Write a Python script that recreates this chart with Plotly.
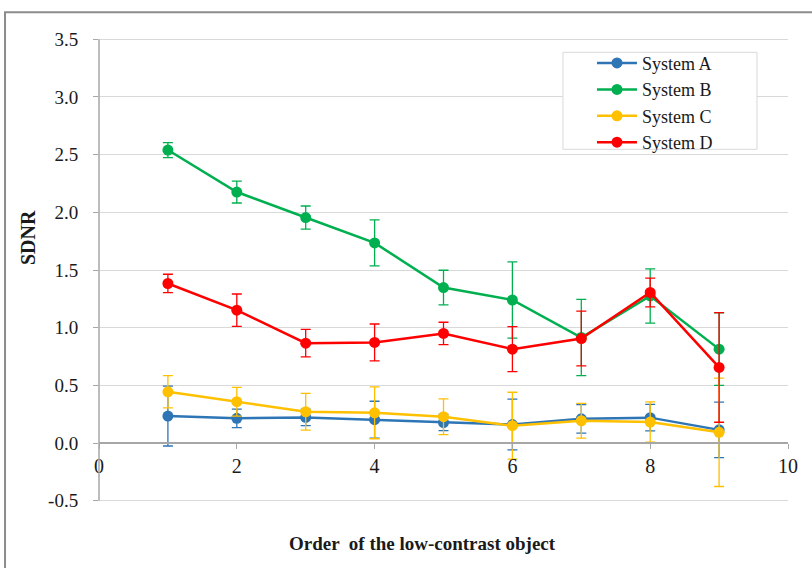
import plotly.graph_objects as go

x_order = [1, 2, 3, 4, 5, 6, 7, 8, 9]

sys_a = [0.234, 0.214, 0.222, 0.202, 0.178, 0.160, 0.210, 0.220, 0.114]
sys_a_err = [0.26, 0.08, 0.072, 0.16, 0.07, 0.22, 0.124, 0.115, 0.24]

sys_b = [2.54, 2.176, 1.955, 1.735, 1.348, 1.24, 0.915, 1.275, 0.814]
sys_b_err = [0.065, 0.095, 0.10, 0.20, 0.15, 0.33, 0.33, 0.235, 0.315]

sys_c = [0.444, 0.358, 0.271, 0.262, 0.228, 0.150, 0.193, 0.182, 0.093]
sys_c_err = [0.14, 0.125, 0.16, 0.225, 0.155, 0.29, 0.15, 0.175, 0.47]

sys_d = [1.383, 1.152, 0.866, 0.872, 0.950, 0.814, 0.906, 1.305, 0.655]
sys_d_err = [0.08, 0.14, 0.12, 0.16, 0.097, 0.195, 0.237, 0.125, 0.475]

names = ["System A", "System B", "System C", "System D"]
colors = ["#2E75B6", "#00B050", "#FFC000", "#FF0000"]
series = [sys_a, sys_b, sys_c, sys_d]
errors = [sys_a_err, sys_b_err, sys_c_err, sys_d_err]

y_tickvals = [-0.5, 0.0, 0.5, 1.0, 1.5, 2.0, 2.5, 3.0, 3.5]
y_ticktext = ["-0.5", "0.0", "0.5", "1.0", "1.5", "2.0", "2.5", "3.0", "3.5"]
x_tickvals = [0, 2, 4, 6, 8, 10]
x_ticktext = ["0", "2", "4", "6", "8", "10"]

SERIF = "Liberation Serif"
TXT = "#1a1a1a"

fig = go.Figure()
for n, c, s, e in zip(names, colors, series, errors):
    fig.add_trace(go.Scatter(
        x=x_order, y=s, name=n, mode="lines+markers",
        line=dict(color=c, width=2.5),
        marker=dict(color=c, size=11),
        error_y=dict(type="data", array=e, visible=True, color=c,
                     thickness=1.3, width=5),
    ))

y_lo, y_hi = -0.52, 3.52
fig.update_layout(
    width=812, height=568,
    margin=dict(l=99, r=24, t=36.69, b=64.69),
    plot_bgcolor="white", paper_bgcolor="white",
    showlegend=True,
    legend=dict(
        x=0.7155, y=0.9833, xanchor="left", yanchor="top",
        bgcolor="rgba(0,0,0,0)", borderwidth=0,
        font=dict(family=SERIF, size=18, color=TXT),
        tracegroupgap=0, itemwidth=40,
    ),
    xaxis=dict(
        range=[0, 10], tickvals=x_tickvals, ticktext=x_ticktext,
        showgrid=False, zeroline=False,
        showline=True, linecolor="#A6A6A6", linewidth=1.5,
        anchor="free", position=(0 - y_lo) / (y_hi - y_lo),
        ticks="outside", ticklen=5, tickcolor="#A6A6A6",
        ticklabelstandoff=0,
        tickfont=dict(family=SERIF, size=20, color=TXT),
    ),
    yaxis=dict(
        range=[y_lo, y_hi], tickvals=y_tickvals, ticktext=y_ticktext,
        showgrid=True, gridcolor="#D9D9D9", gridwidth=1.2,
        zeroline=False,
        showline=False,
        ticks="outside", ticklen=5, tickcolor="#A6A6A6",
        ticklabelstandoff=11,
        tickfont=dict(family=SERIF, size=19, color=TXT),
    ),
)

# y axis line spanning the tick range
fig.add_shape(type="line", xref="paper", yref="y",
              x0=0, x1=0, y0=y_tickvals[0], y1=y_tickvals[-1],
              line=dict(color="#A6A6A6", width=1.5), layer="above")

# axis titles
fig.add_annotation(text="<b>Order  of the low-contrast object</b>",
                   xref="paper", yref="paper", x=0.469, y=-0.0872,
                   xanchor="center", yanchor="middle", showarrow=False,
                   font=dict(family=SERIF, size=19, color=TXT))
fig.add_annotation(text="<b>SDNR</b>", textangle=-90,
                   xref="paper", yref="paper", x=-0.103, y=0.5686,
                   xanchor="center", yanchor="middle", showarrow=False,
                   font=dict(family=SERIF, size=20, color=TXT))

# legend frame
fig.add_shape(type="rect", xref="paper", yref="paper",
              x0=0.6734, x1=0.955, y0=0.7590, y1=0.9672,
              line=dict(color="#D9D9D9", width=1), fillcolor="white",
              layer="above")

# outer chart frame
fig.add_shape(type="rect", xref="paper", yref="paper",
              x0=-0.1364, x1=1.04, y0=-0.2, y1=1.0529,
              line=dict(color="#8C8C8C", width=2), layer="below")

fig.write_html("out.html")
